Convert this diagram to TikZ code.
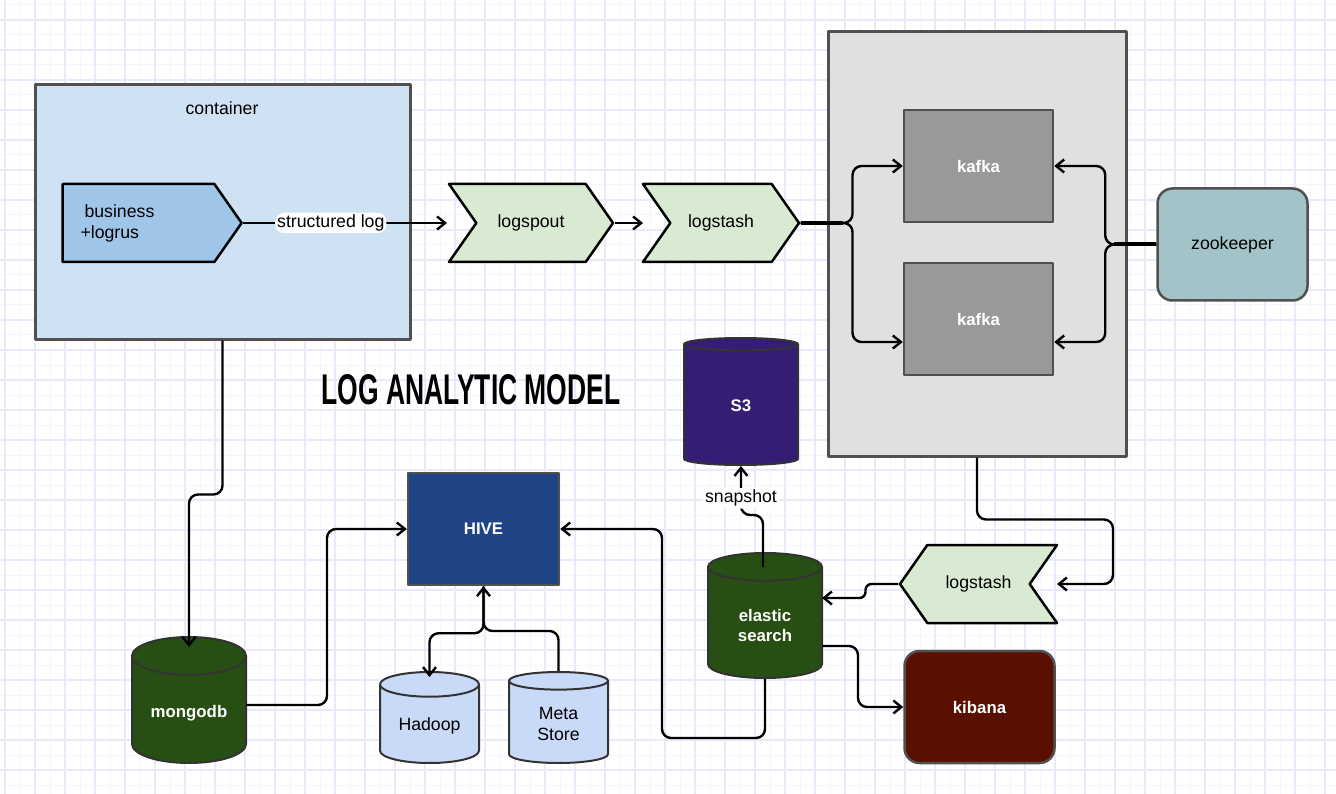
\documentclass[tikz,border=0pt]{standalone}
\usepackage{fontspec}
\setmainfont{Liberation Sans}
\usepackage{graphicx}
\usetikzlibrary{shapes.geometric, shapes.symbols, arrows.meta, positioning}

\definecolor{gridmaj}{HTML}{E9E9FB}
\definecolor{gridmin}{HTML}{F5F5FD}
\definecolor{contfill}{HTML}{CFE2F3}
\definecolor{bizfill}{HTML}{9FC5E8}
\definecolor{stashfill}{HTML}{D9EAD3}
\definecolor{groupfill}{HTML}{E0E0E0}
\definecolor{kafkafill}{HTML}{999999}
\definecolor{zkfill}{HTML}{A2C4C9}
\definecolor{esfill}{HTML}{274E13}
\definecolor{sthreefill}{HTML}{351C75}
\definecolor{kibfill}{HTML}{5B0F00}
\definecolor{hivefill}{HTML}{1F4587}
\definecolor{hdfsfill}{HTML}{C9DAF8}
\definecolor{edge}{HTML}{505050}

\newcommand{\lbltext}{\fontsize{17.7}{21}\selectfont}
\newcommand{\boldtext}{\bfseries\fontsize{16.8}{20}\selectfont}

\tikzset{
  outer/.style={rectangle, draw=edge, line width=3pt},
  chevron/.style={signal, draw=black, line width=2.5pt, fill=stashfill, signal pointer angle=110,
                  minimum height=78pt, font=\lbltext},
  kafkabox/.style={rectangle, draw=edge, line width=2.5pt, fill=kafkafill, text=white,
                   minimum width=149pt, minimum height=112pt, font=\boldtext},
  roundbox/.style={rectangle, rounded corners=15pt, draw=edge, line width=2.5pt,
                   minimum width=150pt, minimum height=112pt},
  store/.style={cylinder, shape border rotate=90, draw=black!80, line width=2pt, anchor=shape center,
                shape aspect=0.456, font=\boldtext, text=white, align=center},
  lbl/.style={fill=white, inner sep=2pt, font=\lbltext},
  wire/.style={line width=2.4pt},
  flow/.style={wire, rounded corners=9pt, -{Straight Barb[length=8pt,width=13pt]}},
}

\begin{document}
\begin{tikzpicture}[x=1pt, y=-1pt, line join=round]
\useasboundingbox (0,0) rectangle (1336,794);
\fill[white] (0,0) rectangle (1336,794);

% grid paper
\foreach \g in {20,50,...,1310} \draw[gridmin, line width=1pt] (\g,0) -- (\g,794);
\foreach \g in {5,35,...,785} \draw[gridmin, line width=1pt] (0,\g) -- (1336,\g);
\foreach \g in {5,35,...,1325} \draw[gridmaj, line width=1.6pt] (\g,0) -- (\g,794);
\foreach \g in {20,50,...,770} \draw[gridmaj, line width=1.6pt] (0,\g) -- (1336,\g);

% container
\node[outer, fill=contfill, minimum width=375pt, minimum height=254pt] (container) at (222.5,212) {};
\node[font=\lbltext] (conttitle) at (222,108) {container};
\node[signal, signal to=east, signal pointer angle=110, draw=black, line width=2.5pt, fill=bizfill,
      minimum width=179pt, minimum height=78pt] (business) at (138.5,223) {};
\node[font=\lbltext, align=left, anchor=west] (biztext) at (77,223) {\hspace{4pt}business\\+logrus};

% shippers
\node[chevron, signal from=west, signal to=east, minimum width=164pt] (logspout) at (531,223) {logspout};
\node[chevron, signal from=west, signal to=east, minimum width=156pt] (logstash1) at (721,223) {logstash};

% kafka cluster
\node[outer, fill=groupfill, minimum width=298pt, minimum height=424pt] (group) at (977,244) {};
\node[kafkabox] (kafka1) at (978.5,166) {kafka};
\node[kafkabox] (kafka2) at (978.5,319) {kafka};
\node[roundbox, fill=zkfill, font=\lbltext] (zookeeper) at (1232.5,244.5) {zookeeper};

% lower half
\node[chevron, signal from=east, signal to=west, minimum width=157pt] (logstash2) at (978.5,584) {logstash};
\node[store, fill=esfill, minimum width=114pt, minimum height=125pt] (elastic) at (765,615.5) {elastic\\search};
\node[store, fill=sthreefill, minimum width=114pt, minimum height=127pt] (s3) at (741,401.5) {S3};
\node[roundbox, fill=kibfill, text=white, font=\boldtext] (kibana) at (979.5,707) {kibana};
\node[rectangle, draw=edge, line width=2.5pt, fill=hivefill, text=white, font=\boldtext,
      minimum width=151pt, minimum height=112pt] (hive) at (483.5,529) {HIVE};
\node[store, fill=esfill, minimum width=114pt, minimum height=126pt] (mongodb) at (189,700) {mongodb};
\node[store, fill=hdfsfill, text=black, font=\lbltext, shape aspect=0.36,
      minimum width=99pt, minimum height=91pt] (hadoop) at (429.5,717.5) {Hadoop};
\node[store, fill=hdfsfill, text=black, font=\lbltext, shape aspect=0.36,
      minimum width=99pt, minimum height=91pt] (metastore) at (558.5,717.5) {Meta\\Store};

\node (title) at (471,390) {\resizebox{299pt}{30pt}{\bfseries LOG ANALYTIC MODEL}};

% connectors
\draw[flow] (business.east) -- node[lbl, pos=0.43] {structured log} ([xshift=-84pt]logspout.center);
\draw[flow] (logspout.east) -- ([xshift=-78pt]logstash1.center);
\draw[flow] (logstash1.east) -- ++(52,0) |- (kafka1.west);
\draw[flow] (logstash1.east) -- ++(52,0) |- ([yshift=-23pt]kafka2.west);
\draw[wire, line width=4pt] (logstash1.east) -- ++(42,0);
\draw[flow] (zookeeper.west) -- ++(-51,0) |- (kafka1.east);
\draw[flow] (zookeeper.west) -- ++(-51,0) |- ([yshift=-23pt]kafka2.east);
\draw[wire, line width=4pt] (zookeeper.west) -- ++(-42,0);
\draw[flow] (group.south) -- ++(0,62) -- ++(136,0) |- ([xshift=78.5pt]logstash2.center);
\draw[flow, rounded corners=6pt] (logstash2.west) -- ++(-33,0) |- ([xshift=57pt, yshift=17.5pt]elastic.shape center);
\draw[flow] ([xshift=-2pt, yshift=48.5pt]elastic.shape center) -- ++(0,-52) -| node[lbl, pos=0.67] {snapshot} (s3.south);
\draw[flow] ([xshift=57pt, yshift=-30.5pt]elastic.shape center) -- ++(36,0) |- (kibana.west);
\draw[flow] (elastic.south) -- ++(0,59) -- ++(-103,0) |- (hive.east);
\draw[flow] (container.south) -- ++(0,154) -| ([yshift=-11pt]mongodb.north);
\draw[flow] ([xshift=57pt, yshift=-5pt]mongodb.shape center) -- ++(81,0) |- (hive.west);
\draw[flow] (metastore.north) -- ++(0,-40) -| (hive.south);
\draw[flow] (hive.south) -- ++(0,47) -| ([yshift=-6pt]hadoop.north);
\end{tikzpicture}
\end{document}
